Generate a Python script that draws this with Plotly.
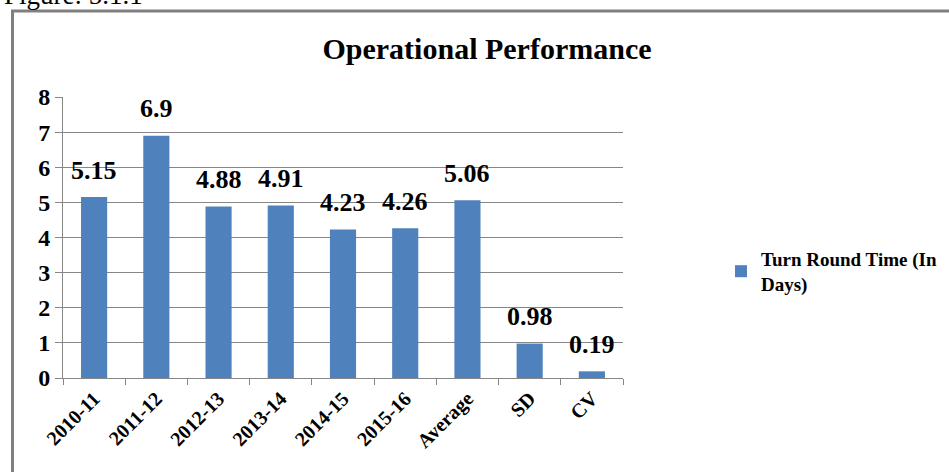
import plotly.graph_objects as go

categories = ["2010-11", "2011-12", "2012-13", "2013-14", "2014-15", "2015-16", "Average", "SD", "CV"]
values = [5.15, 6.9, 4.88, 4.91, 4.23, 4.26, 5.06, 0.98, 0.19]
value_labels = ["5.15", "6.9", "4.88", "4.91", "4.23", "4.26", "5.06", "0.98", "0.19"]
series_name = "Turn Round Time (In<br>Days)"
y_ticks = [0, 1, 2, 3, 4, 5, 6, 7, 8]

SERIF = "Liberation Serif, Times New Roman, serif"
GRAY = "#868686"

W, H = 949, 472
L, R, T, B = 63, 326, 97, 94
pw, ph = W - L - R, H - T - B

def px_x(x):
    return (x - L) / pw

def px_y(y):
    return (H - B - y) / ph

fig = go.Figure()
fig.add_trace(go.Bar(
    x=categories, y=values, name=series_name,
    marker=dict(color="#4F81BD", line=dict(width=0)),
    showlegend=True,
))

for c, v, t in zip(categories, values, value_labels):
    fig.add_annotation(x=c, y=v, text=t, showarrow=False,
                       yanchor="middle", yshift=27,
                       font=dict(family=SERIF, size=26, color="black", weight="bold"))

# figure caption at top (cut off)
fig.add_annotation(xref="paper", yref="paper", x=px_x(2), y=px_y(12),
                   xanchor="left", yanchor="bottom", showarrow=False,
                   text="Figure: 5.1.1",
                   font=dict(family=SERIF, size=27, color="black"))

# chart border
fig.add_shape(type="rect", xref="paper", yref="paper",
              x0=px_x(12.5), y0=px_y(520), x1=px_x(1000), y1=px_y(11),
              line=dict(color="#808080", width=3), layer="below")

fig.update_layout(
    width=W, height=H,
    margin=dict(l=L, r=R, t=T, b=B, autoexpand=False),
    paper_bgcolor="white", plot_bgcolor="white",
    bargap=0.58,
    title=dict(text="Operational Performance", x=px_x(487), xref="paper",
               xanchor="center", y=1 - 48 / H, yanchor="middle",
               font=dict(family=SERIF, size=30, color="black", weight="bold")),
    legend=dict(x=px_x(721), y=px_y(240), xanchor="left", yanchor="top",
                font=dict(family=SERIF, size=19, color="black", weight="bold"),
                bgcolor="rgba(0,0,0,0)"),
    xaxis=dict(
        type="category", automargin=False,
        showline=True, linecolor=GRAY, linewidth=1,
        ticks="outside", tickson="boundaries", ticklen=6, tickcolor=GRAY,
        tickangle=-45,
        tickfont=dict(family=SERIF, size=20, color="black", weight="bold"),
        showgrid=False,
    ),
    yaxis=dict(
        range=[0, 8], tickvals=y_ticks, automargin=False,
        showline=True, linecolor=GRAY, linewidth=1,
        ticks="outside", ticklen=7, tickcolor=GRAY,
        showgrid=True, gridcolor=GRAY, gridwidth=1,
        tickfont=dict(family=SERIF, size=24, color="black", weight="bold"),
        zeroline=False,
    ),
)

fig.write_html("out.html", config={"displayModeBar": False},
               post_script="document.body.style.margin='0';document.body.style.padding='0';")
